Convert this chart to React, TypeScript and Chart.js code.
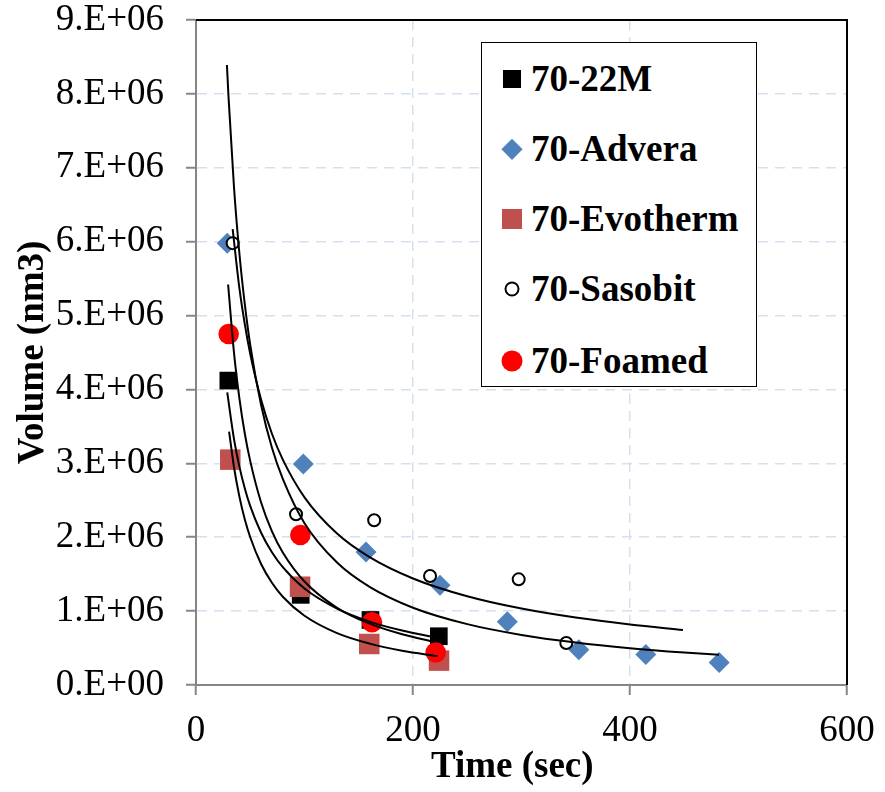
import React, { useEffect, useRef } from "react";
import { Chart, registerables } from "chart.js";

Chart.register(...registerables);

const FONT = "'Times New Roman', 'Liberation Serif', Times, serif";

// Axis ticks
const xTickValues = [0, 200, 400, 600];
const yTickLabels = ["0.E+00", "1.E+06", "2.E+06", "3.E+06", "4.E+06", "5.E+06", "6.E+06", "7.E+06", "8.E+06", "9.E+06"];

// Series (time in sec, volume in nm3)
const labels = ["70-22M", "70-Advera", "70-Evotherm", "70-Sasobit", "70-Foamed"];

const m22Time = [29.8, 96.5, 160.8, 223.8];
const m22Vol = [4.12e6, 1.22e6, 0.88e6, 0.66e6];

const adveraTime = [28.8, 98.9, 156.7, 224.9, 286.9, 352.8, 414.6, 482.2];
const adveraVol = [5.98e6, 2.99e6, 1.8e6, 1.35e6, 0.857e6, 0.478e6, 0.413e6, 0.304e6];

const evoTime = [31.6, 95.9, 159.7, 224.0];
const evoVol = [3.05e6, 1.33e6, 0.555e6, 0.33e6];

const sasTime = [33.8, 92.2, 164.2, 215.7, 297.4, 341.3];
const sasVol = [5.98e6, 2.31e6, 2.23e6, 1.475e6, 1.43e6, 0.568e6];

const foamTime = [30.1, 96.2, 162.2, 220.9];
const foamVol = [4.75e6, 2.03e6, 0.85e6, 0.44e6];

// Trendlines (power fits)
const m22FitT = [28.8, 35, 40, 45, 50, 60, 70, 80, 100, 130, 160, 190, 222.6];
const m22FitV = [3.96e6, 3.33e6, 2.955e6, 2.66e6, 2.42e6, 2.06e6, 1.796e6, 1.594e6, 1.305e6, 1.033e6, 0.858e6, 0.737e6, 0.64e6];

const adveraFitT = [28.5, 30, 35, 40, 45, 50, 60, 70, 80, 100, 130, 160, 200, 250, 300, 350, 400, 450, 482];
const adveraFitV = [8.39e6, 7.95e6, 6.74e6, 5.84e6, 5.15e6, 4.6e6, 3.79e6, 3.21e6, 2.79e6, 2.19e6, 1.657e6, 1.328e6, 1.046e6, 0.824e6, 0.678e6, 0.575e6, 0.498e6, 0.439e6, 0.408e6];

const evoFitT = [30.5, 35, 40, 45, 50, 60, 70, 80, 100, 130, 160, 190, 222.6];
const evoFitV = [3.43e6, 2.95e6, 2.55e6, 2.24e6, 2.0e6, 1.637e6, 1.383e6, 1.195e6, 0.937e6, 0.702e6, 0.56e6, 0.464e6, 0.391e6];

const sasFitT = [33.8, 40, 45, 50, 60, 70, 80, 100, 130, 160, 200, 250, 300, 350, 400, 448.8];
const sasFitV = [6.17e6, 5.37e6, 4.88e6, 4.48e6, 3.86e6, 3.4e6, 3.05e6, 2.54e6, 2.05e6, 1.731e6, 1.442e6, 1.201e6, 1.034e6, 0.912e6, 0.818e6, 0.744e6];

const foamFitT = [29.6, 35, 40, 45, 50, 60, 70, 80, 100, 130, 160, 190, 220];
const foamFitV = [5.42e6, 4.5e6, 3.88e6, 3.4e6, 3.03e6, 2.47e6, 2.08e6, 1.794e6, 1.4e6, 1.045e6, 0.83e6, 0.686e6, 0.582e6];

const pts = (xs: number[], ys: number[]) => xs.map((x, i) => ({ x, y: ys[i] }));

const GRID = "#d6e0f1";
const AXIS = "#868686";

const framePlugin = {
  id: "frame",
  afterDatasetsDraw(chart: any) {
    const { ctx, chartArea: a } = chart;
    ctx.save();
    ctx.strokeStyle = "#000";
    ctx.lineWidth = 2;
    ctx.beginPath();
    ctx.moveTo(a.left, a.top);
    ctx.lineTo(a.right, a.top);
    ctx.lineTo(a.right, a.bottom);
    ctx.stroke();
    ctx.restore();
  },
};

function fitLine(xs: number[], ys: number[]) {
  return {
    type: "line" as const,
    data: pts(xs, ys),
    showLine: true,
    borderColor: "#000",
    borderWidth: 2,
    pointRadius: 0,
    fill: false,
    cubicInterpolationMode: "monotone" as const,
    order: 0,
  };
}

export default function App() {
  const ref = useRef<HTMLCanvasElement>(null);

  useEffect(() => {
    if (!ref.current) return;
    const tickFont = { family: FONT, size: 37, lineHeight: 1.0 };
    const titleFont = { family: FONT, size: 37, weight: "bold" as const };
    const chart = new Chart(ref.current, {
      type: "scatter",
      data: {
        datasets: [
          fitLine(m22FitT, m22FitV),
          fitLine(adveraFitT, adveraFitV),
          fitLine(evoFitT, evoFitV),
          fitLine(sasFitT, sasFitV),
          fitLine(foamFitT, foamFitV),
          {
            label: labels[0],
            data: pts(m22Time, m22Vol),
            pointStyle: "rect",
            pointRadius: 12.5,
            backgroundColor: "#000",
            borderWidth: 0,
            order: 5,
          },
          {
            label: labels[1],
            data: pts(adveraTime, adveraVol),
            pointStyle: "rectRot",
            pointRadius: 10.5,
            backgroundColor: "#4f81bd",
            borderWidth: 0,
            order: 4,
          },
          {
            label: labels[2],
            data: pts(evoTime, evoVol),
            pointStyle: "rect",
            pointRadius: 14.5,
            backgroundColor: "#c0504d",
            borderWidth: 0,
            order: 3,
          },
          {
            label: labels[3],
            data: pts(sasTime, sasVol),
            pointStyle: "circle",
            pointRadius: 6,
            backgroundColor: "#fff",
            borderColor: "#000",
            borderWidth: 2,
            order: 2,
          },
          {
            label: labels[4],
            data: pts(foamTime, foamVol),
            pointStyle: "circle",
            pointRadius: 10.3,
            backgroundColor: "#ff0000",
            borderWidth: 0,
            order: 1,
          },
        ] as any,
      },
      options: {
        responsive: false,
        animation: false,
        layout: { padding: { top: 20, right: 38, left: 0, bottom: 0 } },
        plugins: { legend: { display: false }, tooltip: { enabled: false } },
        scales: {
          x: {
            type: "linear",
            min: 0,
            max: 600,
            afterBuildTicks: (s: any) => {
              s.ticks = xTickValues.map((v) => ({ value: v }));
            },
            afterFit: (s: any) => {
              s.height = 107;
              s.paddingLeft = 0;
              s.paddingRight = 0;
            },
            ticks: { font: tickFont, color: "#000", padding: 18, maxRotation: 0 },
            grid: { color: GRID, lineWidth: 1.5, tickColor: AXIS, tickLength: 10, tickWidth: 2 },
            border: { color: AXIS, width: 2, dash: [10, 7] },
            title: {
              display: true,
              text: "Time (sec)\u00A0\u00A0",
              font: titleFont,
              color: "#000",
              padding: { top: 0, bottom: 2 },
            },
          },
          y: {
            type: "linear",
            min: 0,
            max: 9e6,
            afterBuildTicks: (s: any) => {
              s.ticks = yTickLabels.map((_, i) => ({ value: i * 1e6 }));
            },
            afterFit: (s: any) => {
              s.width = 196;
              s.paddingTop = 0;
              s.paddingBottom = 0;
            },
            ticks: {
              font: tickFont,
              color: "#000",
              padding: 22,
              callback: (_v: any, i: number) => yTickLabels[i],
            },
            grid: { color: GRID, lineWidth: 1.5, tickColor: AXIS, tickLength: 10, tickWidth: 2 },
            border: { color: AXIS, width: 2, dash: [10, 7] },
            title: { display: true, text: "Volume (nm3)", font: titleFont, color: "#000", padding: { top: 11, bottom: 0 } },
          },
        },
      },
      plugins: [framePlugin],
    });
    return () => chart.destroy();
  }, []);

  const legendFont: React.CSSProperties = {
    fontFamily: FONT,
    fontWeight: "bold",
    fontSize: 37,
    color: "#000",
    whiteSpace: "nowrap",
  };
  const rowCenters = [36, 106, 176, 246, 318];
  const markers: React.ReactNode[] = [
    <div style={{ width: 18, height: 18, background: "#000" }} />,
    <div style={{ width: 14.5, height: 14.5, background: "#4f81bd", transform: "rotate(45deg)" }} />,
    <div style={{ width: 20, height: 20, background: "#c0504d" }} />,
    <div style={{ width: 11, height: 11, borderRadius: "50%", border: "2px solid #000", background: "#fff" }} />,
    <div style={{ width: 21, height: 21, borderRadius: "50%", background: "#ff0000" }} />,
  ];

  return (
    <div style={{ position: "absolute", left: 0, top: 0, width: 885, height: 792, background: "#fff" }}>
      <canvas ref={ref} width={885} height={792} style={{ display: "block" }} />
      <div
        style={{
          position: "absolute",
          left: 481,
          top: 42,
          width: 276,
          height: 345,
          boxSizing: "border-box",
          border: "1.5px solid #000",
          background: "#fff",
        }}
      >
        {labels.map((lab, i) => (
          <div key={lab} style={{ position: "absolute", left: 0, top: rowCenters[i] - 22, height: 44, width: 270 }}>
            <div
              style={{
                position: "absolute",
                left: 30,
                top: 22,
                transform: "translate(-50%, -50%)",
                display: "flex",
                alignItems: "center",
                justifyContent: "center",
              }}
            >
              {markers[i]}
            </div>
            <div style={{ ...legendFont, position: "absolute", left: 49, top: 0, height: 44, lineHeight: "44px" }}>{lab}</div>
          </div>
        ))}
      </div>
    </div>
  );
}
